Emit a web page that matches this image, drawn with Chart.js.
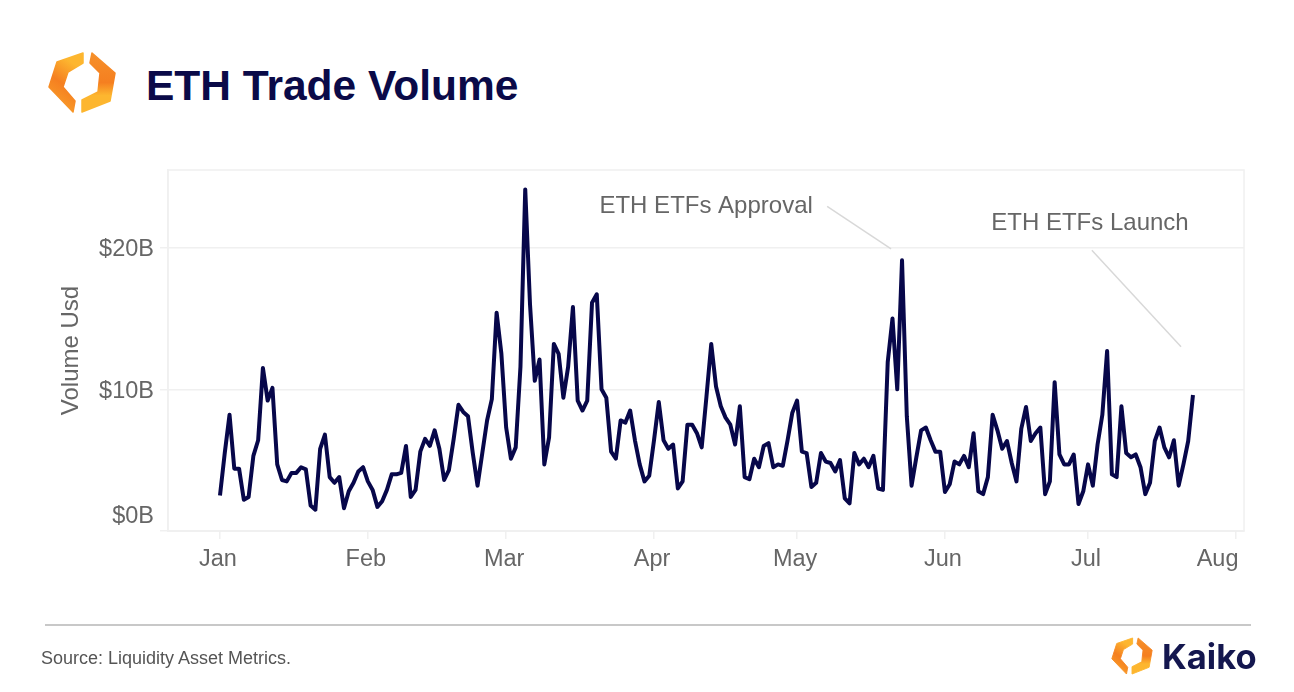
<!DOCTYPE html>
<html>
<head>
<meta charset="utf-8">
<title>ETH Trade Volume</title>
<script src="https://cdn.jsdelivr.net/npm/chart.js@4"></script>
<style>
	html, body { margin: 0; padding: 0; background: #fff; overflow: hidden; }
	body { width: 1294px; height: 692px; position: relative; font-family: "Liberation Sans", sans-serif; }
	#chart { position: absolute; left: 0; top: 0; }
	.logo { position: absolute; }
	#title { position: absolute; left: 146px; top: 61px; margin: 0; font-size: 42.5px; line-height: 50px; font-weight: bold; color: #0a0a48; white-space: nowrap; }
	#rule { position: absolute; left: 45px; top: 624px; width: 1206px; height: 2px; background: #c8c8c8; }
	#source { position: absolute; left: 41px; top: 647px; font-size: 18px; line-height: 22px; color: #555; white-space: nowrap; }
	#brand { position: absolute; left: 1162px; top: 635px; font-family: Inter, sans-serif; font-size: 34.5px; line-height: 44px; font-weight: 700; color: #14174f; white-space: nowrap; }
</style>
</head>
<body>
<svg width="0" height="0" style="position:absolute">
	<defs>
		<linearGradient id="left_grad" x1="0.7" y1="0" x2="0.3" y2="1">
			<stop offset="0.15" stop-color="#fdb62f"/>
			<stop offset="0.55" stop-color="#f57f20"/>
			<stop offset="1" stop-color="#f9a02a"/>
		</linearGradient>
		<linearGradient id="right_grad" x1="0.5" y1="0" x2="0.5" y2="1">
			<stop offset="0" stop-color="#f6902a"/>
			<stop offset="0.5" stop-color="#f57f20"/>
			<stop offset="0.72" stop-color="#fdb62f"/>
		</linearGradient>
		<symbol id="logo_mark" viewBox="46 50 72 65">
			<polygon fill="url(#left_grad)" stroke="url(#left_grad)" stroke-width="1.5" stroke-linejoin="round" points="83,53 57,62 49,87 73,112 75,101 63,87 68,72 83,63"/>
			<polygon fill="url(#right_grad)" stroke="url(#right_grad)" stroke-width="1.5" stroke-linejoin="round" points="92,53 115,73 110,101 82,112 82,100 98,92 100,73 90,63"/>
		</symbol>
	</defs>
</svg>
<svg class="logo" style="left:46px;top:50px" width="72" height="65"><use href="#logo_mark"/></svg>
<h1 id="title">ETH Trade Volume</h1>
<canvas id="chart" width="1294" height="692"></canvas>
<div id="rule"></div>
<div id="source">Source: Liquidity Asset Metrics.</div>
<svg class="logo" style="left:1110px;top:636px" width="44" height="40"><use href="#logo_mark"/></svg>
<div id="brand">Kaiko</div>
<script>
// daily volume in $B, index 0 = Jan 1
const eth_volume = [
	2.5, 5.5, 8.2, 4.4, 4.4, 2.2, 2.4, 5.3, 6.4, 11.5,
	9.2, 10.1, 4.7, 3.6, 3.5, 4.1, 4.1, 4.5, 4.35, 1.8,
	1.5, 5.8, 6.8, 3.8, 3.4, 3.8, 1.6, 2.8, 3.4, 4.2,
	4.5, 3.5, 2.9, 1.7, 2.1, 2.9, 4.0, 4.0, 4.1, 6.0,
	2.4, 2.9, 5.6, 6.5, 6.0, 7.1, 5.8, 3.6, 4.3, 6.5,
	8.9, 8.4, 8.1, 5.5, 3.2, 5.5, 7.8, 9.3, 15.4, 12.5,
	7.3, 5.1, 5.9, 11.6, 24.1, 16.0, 10.6, 12.1, 4.7, 6.6,
	13.2, 12.5, 9.4, 11.6, 15.8, 9.2, 8.5, 9.2, 16.1, 16.7,
	10.0, 9.4, 5.6, 5.1, 7.8, 7.65, 8.5, 6.4, 4.7, 3.5,
	3.9, 6.4, 9.1, 6.4, 5.8, 6.1, 3.0, 3.5, 7.5, 7.5,
	6.9, 5.9, 9.5, 13.2, 10.2, 8.8, 8.0, 7.5, 6.1, 8.8,
	3.8, 3.65, 5.1, 4.5, 6.0, 6.2, 4.5, 4.7, 4.6, 6.4,
	8.35, 9.2, 5.6, 5.5, 3.1, 3.4, 5.5, 4.9, 4.8, 4.2,
	5.0, 2.3, 1.95, 5.5, 4.7, 5.1, 4.5, 5.3, 3.0, 2.9,
	11.9, 15.0, 10.0, 19.1, 8.1, 3.2, 5.2, 7.1, 7.3, 6.4,
	5.6, 5.6, 2.75, 3.3, 4.9, 4.7, 5.3, 4.5, 6.9, 2.8,
	2.6, 3.8, 8.2, 7.1, 5.8, 6.35, 4.8, 3.5, 7.2, 8.75,
	6.35, 6.9, 7.3, 2.6, 3.5, 10.5, 5.4, 4.7, 4.7, 5.4,
	1.9, 2.8, 4.7, 3.2, 6.1, 8.2, 12.7, 4.0, 3.8, 8.8,
	5.5, 5.2, 5.4, 4.5, 2.6, 3.4, 6.35, 7.3, 5.9, 5.2,
	6.4, 3.2, 4.7, 6.35, 9.6
]

const month_days = [0, 31, 60, 91, 121, 152, 182, 213]
const month_labels = ['Jan', 'Feb', 'Mar', 'Apr', 'May', 'Jun', 'Jul', 'Aug']
const volume_ticks = [0, 10, 20]
const volume_labels = ['$0B', '$10B', '$20B']

// annotations in data space: [day, $B]
const approval_leader = [[127.3, 22.9], [140.7, 19.9]]
const launch_leader = [[182.8, 19.8], [201.5, 13.0]]
const note_labels = [
	{ text: 'ETH ETFs Approval', day: 124.3, volume: 22.87 },
	{ text: 'ETH ETFs Launch', day: 203.1, volume: 21.72 }
]

const to_points = pairs => pairs.map(p => ({ x: p[0], y: p[1] }))

const text_color = '#666'
const frame_color = '#f0f0f0'
const tick_font = { family: '"Liberation Sans"', size: 23.5, lineHeight: 1.42 }

// frame around the plot and the two notes
const notes_plugin = {
	id: 'notes',
	beforeDatasetsDraw(chart) {
		const { ctx, chartArea: a } = chart
		ctx.save()
		ctx.strokeStyle = frame_color
		ctx.lineWidth = 1.5
		ctx.strokeRect(a.left, a.top, a.right - a.left, a.bottom - a.top)
		ctx.restore()
	},
	afterDatasetsDraw(chart) {
		const { ctx, scales } = chart
		ctx.save()
		ctx.font = '24px "Liberation Sans"'
		ctx.fillStyle = text_color
		ctx.textAlign = 'right'
		ctx.textBaseline = 'middle'
		note_labels.forEach(n => {
			ctx.fillText(n.text, scales.x.getPixelForValue(n.day), scales.y.getPixelForValue(n.volume))
		})
		ctx.restore()
	}
}

function leader_dataset(pairs) {
	return {
		data: to_points(pairs),
		borderColor: '#d8d8d8',
		borderWidth: 1.5,
		pointRadius: 0
	}
}

new Chart(document.getElementById('chart'), {
	type: 'line',
	data: {
		datasets: [
			{
				label: 'Volume Usd',
				data: eth_volume.map((v, i) => ({ x: i, y: v })),
				borderColor: '#07074a',
				borderWidth: 4,
				borderJoinStyle: 'round',
				borderCapStyle: 'butt',
				tension: 0,
				pointRadius: 0
			},
			leader_dataset(approval_leader),
			leader_dataset(launch_leader)
		]
	},
	options: {
		responsive: false,
		animation: false,
		layout: { padding: { left: 58, top: 170, right: 50, bottom: 0 } },
		plugins: { legend: { display: false }, tooltip: { enabled: false } },
		scales: {
			x: {
				type: 'linear',
				min: -10.9,
				max: 214.7,
				afterBuildTicks: scale => { scale.ticks = month_days.map(value => ({ value })) },
				afterFit: scale => { scale.height = 161 },
				grid: { drawOnChartArea: false, color: frame_color, lineWidth: 1.5, tickLength: 8 },
				border: { color: frame_color, width: 1.5 },
				ticks: {
					autoSkip: false,
					maxRotation: 0,
					color: text_color,
					font: tick_font,
					padding: 4,
					labelOffset: -2,
					// the last label sits left of its tick so it stays inside the plot width
					callback: (value, index) => index === month_labels.length - 1
						? month_labels[index] + '\u00a0'.repeat(5)
						: month_labels[index]
				}
			},
			y: {
				min: 0,
				max: 25.47,
				afterBuildTicks: scale => { scale.ticks = volume_ticks.map(value => ({ value })) },
				afterFit: scale => { scale.width = 110 },
				grid: { color: frame_color, lineWidth: 1.5, tickLength: 8 },
				border: { color: frame_color, width: 1.5 },
				title: {
					display: true,
					text: 'Volume Usd',
					color: text_color,
					font: { family: '"Liberation Sans"', size: 24, lineHeight: 1.1 },
					padding: 0
				},
				ticks: {
					color: text_color,
					font: tick_font,
					padding: 6,
					labelOffset: 2,
					// $0B is lifted above its gridline
					callback: (value, index) => index === 0 ? [volume_labels[index], ''] : volume_labels[index]
				}
			}
		}
	},
	plugins: [notes_plugin]
})
</script>
</body>
</html>
